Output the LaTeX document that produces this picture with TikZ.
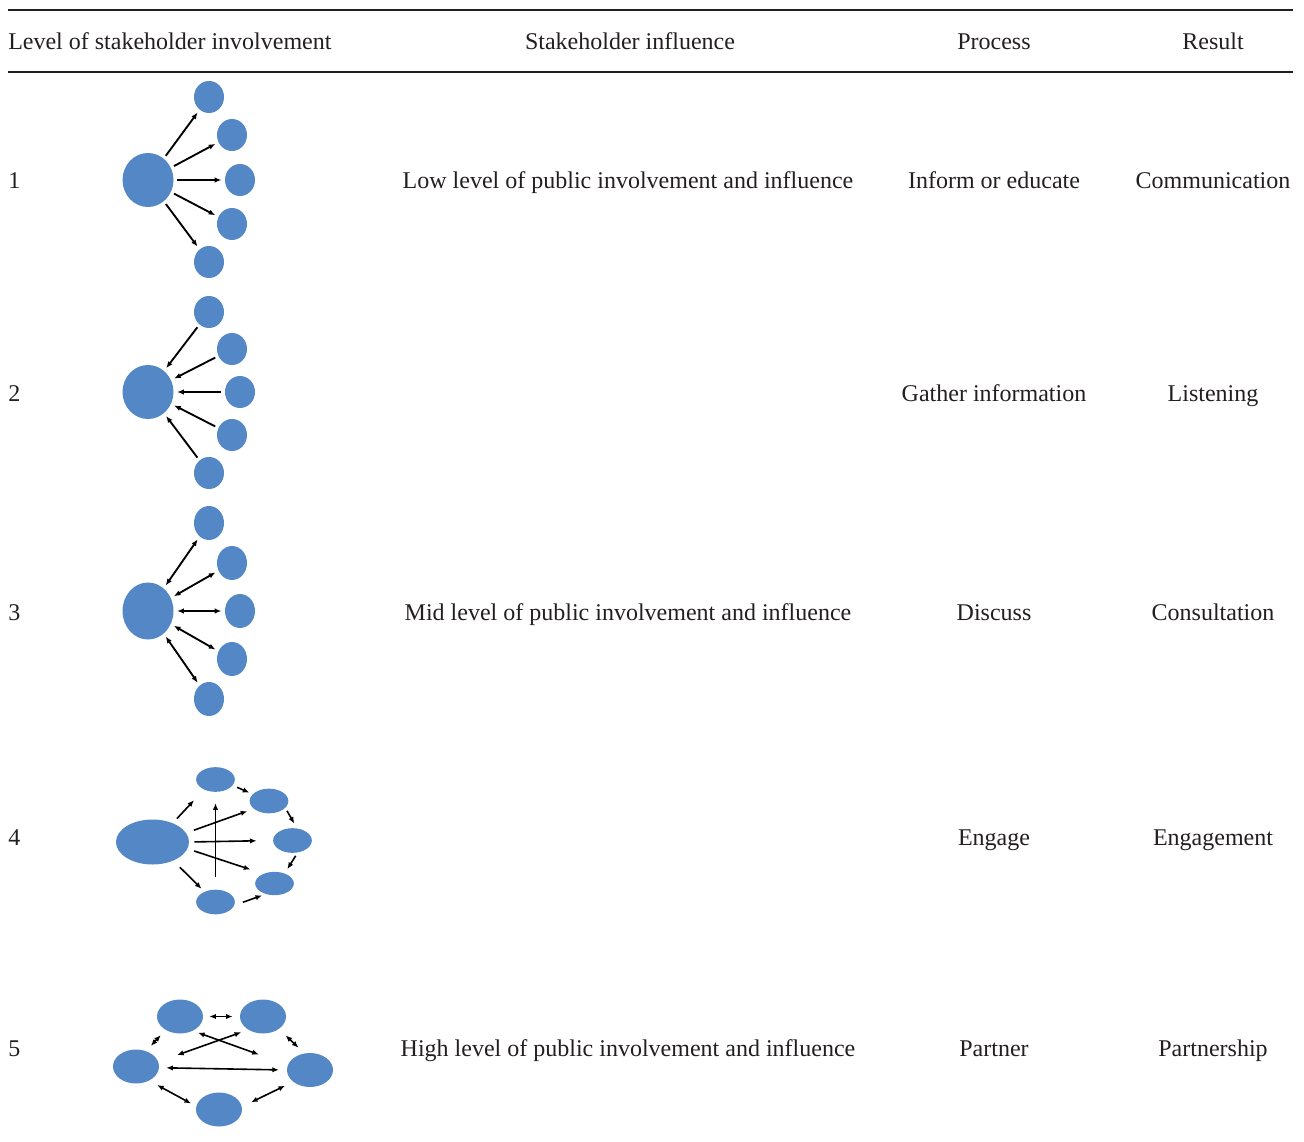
\documentclass[tikz,border=0pt]{standalone}
\usepackage{fontspec}
\setmainfont{Liberation Serif}
\usetikzlibrary{shapes.geometric,arrows.meta}
\definecolor{nodeblue}{RGB}{83,135,198}
\definecolor{txtgray}{RGB}{35,31,32}
\begin{document}
\begin{tikzpicture}[x=0.75pt,y=-0.75pt,
  >={Latex[length=5pt,width=4pt]},
  bub/.style={ellipse,fill=nodeblue,draw=none,inner sep=0pt},
  bigc/.style={bub,minimum width=38.25pt,minimum height=40.5pt},
  bigcc/.style={bub,minimum width=38.25pt,minimum height=42.75pt},
  smallc/.style={bub,minimum width=22.5pt,minimum height=24pt},
  smallcc/.style={bub,minimum width=22.5pt,minimum height=25.5pt},
  bigf/.style={bub,minimum width=54.75pt,minimum height=33.75pt},
  smallf/.style={bub,minimum width=29pt,minimum height=18.5pt},
  ovl/.style={bub,minimum width=34.5pt,minimum height=25.5pt},
  txt/.style={font=\fontsize{18}{21}\selectfont,text=txtgray,inner sep=0pt,anchor=base},
  ltxt/.style={txt,anchor=base west},
  rulel/.style={line width=1.1pt,draw=txtgray},
  arr/.style={line width=1.2pt,draw=black},
  fan/.style={arr,line width=1.4pt,shorten <=2.5pt,shorten >=2.5pt},
]
\useasboundingbox (0,0) rectangle (1304,1142);

% rules
\coordinate (tl) at (8,10);
\coordinate (tr) at (1293,10);
\coordinate (hl) at (8,72);
\coordinate (hr) at (1293,72);
\draw[rulel] (tl) -- (tr);
\draw[rulel] (hl) -- (hr);

% header
\node[ltxt] (h1) at (8,50) {Level of stakeholder involvement};
\node[txt] (h2) at (630,50) {Stakeholder influence};
\node[txt] (h3) at (994,50) {Process};
\node[txt] (h4) at (1213,50) {Result};

% row texts
\node[ltxt] (n1) at (8,188) {1};
\node[ltxt] (n2) at (8,401) {2};
\node[ltxt] (n3) at (8,620) {3};
\node[ltxt] (n4) at (8,845) {4};
\node[ltxt] (n5) at (8,1056) {5};

\node[txt] (i1) at (628,188) {Low level of public involvement and influence};
\node[txt] (i3) at (628,620) {Mid level of public involvement and influence};
\node[txt] (i5) at (628,1056) {High level of public involvement and influence};

\node[txt] (p1) at (994,188) {Inform or educate};
\node[txt] (p2) at (994,401) {Gather information};
\node[txt] (p3) at (994,620) {Discuss};
\node[txt] (p4) at (994,845) {Engage};
\node[txt] (p5) at (994,1056) {Partner};

\node[txt] (r1) at (1213,188) {Communication};
\node[txt] (r2) at (1213,401) {Listening};
\node[txt] (r3) at (1213,620) {Consultation};
\node[txt] (r4) at (1213,845) {Engagement};
\node[txt] (r5) at (1213,1056) {Partnership};

% row 1
\node[bigc] (a0) at (148,180) {};
\node[smallc] (a1) at (209,97) {};
\node[smallc] (a2) at (232,135) {};
\node[smallc] (a3) at (240,180) {};
\node[smallc] (a4) at (232,224) {};
\node[smallc] (a5) at (209,262) {};
\foreach \i in {1,...,5} \draw[fan,->] (a0) -- (a\i);

% row 2
\node[bigc] (b0) at (148,392) {};
\node[smallc] (b1) at (209,312) {};
\node[smallc] (b2) at (232,349) {};
\node[smallc] (b3) at (240,392) {};
\node[smallc] (b4) at (232,435) {};
\node[smallc] (b5) at (209,473) {};
\foreach \i in {1,...,5} \draw[fan,<-] (b0) -- (b\i);

% row 3
\node[bigcc] (c0) at (148,611) {};
\node[smallcc] (c1) at (209,523) {};
\node[smallcc] (c2) at (232,563) {};
\node[smallcc] (c3) at (240,611) {};
\node[smallcc] (c4) at (232,659) {};
\node[smallcc] (c5) at (209,699) {};
\foreach \i in {1,...,5} \draw[fan,<->] (c0) -- (c\i);

% row 4
\node[bigf] (d0) at (152.5,842) {};
\node[smallf] (d1) at (215.5,779.5) {};
\node[smallf] (d2) at (269,801) {};
\node[smallf] (d3) at (292.5,840.5) {};
\node[smallf,minimum height=17.5pt] (d4) at (274.5,883.5) {};
\node[smallf] (d5) at (215.5,902) {};
\draw[arr,->,shorten <=4.5pt,shorten >=10.8pt] (d0.43) -- (d1.221);
\draw[arr,->,shorten <=3.5pt,shorten >=2.6pt] (d1.-19) -- (d2.157);
\draw[arr,->,shorten <=2.5pt,shorten >=4pt] (d2.-23) -- (d3.70);
\draw[arr,->,shorten <=2.8pt,shorten >=3.7pt] (d3.-67) -- (d4.45);
\draw[arr,->,shorten <=6.8pt,shorten >=2.7pt] (d5.-10) -- (d4.-130);
\draw[arr,->,shorten <=6.9pt,shorten >=3pt] (d0.-42) -- (d5.137);
\draw[arr,->,shorten <=9pt,shorten >=8.3pt] (d5.north) -- (d1.south);
\draw[arr,->,shorten <=6.1pt,shorten >=5pt] (d0.15) -- (d2.207);
\draw[arr,->,shorten <=3.8pt,shorten >=12.2pt] (d0.0) -- (d3.180);
\draw[arr,->,shorten <=5.1pt,shorten >=10.1pt] (d0.-11) -- (d4.139);

% row 5
\node[ovl] (eA) at (180,1016.5) {};
\node[ovl] (eB) at (263,1016.5) {};
\node[ovl] (eC) at (136,1066.5) {};
\node[ovl] (eD) at (310,1070) {};
\node[ovl] (eE) at (219,1109.5) {};
\draw[arr,<->,shorten <=4.5pt,shorten >=5.3pt] (eA.0) -- (eB.180);
\draw[arr,<->,shorten <=5.2pt,shorten >=5.2pt] (eC.57) -- (eA.-137);
\draw[arr,<->,shorten <=6.8pt,shorten >=6pt] (eB.-38) -- (eD.109);
\draw[arr,<->,shorten <=4pt,shorten >=23pt] (eA.-48) -- (eD.167);
\draw[arr,<->,shorten <=14.8pt,shorten >=5.5pt] (eC.12) -- (eB.-138);
\draw[arr,<->,shorten <=5.3pt,shorten >=5.8pt] (eC.-3) -- (eD.180);
\draw[arr,<->,shorten <=6.7pt,shorten >=4.3pt] (eC.-47) -- (eE.172);
\draw[arr,<->,shorten <=7.5pt,shorten >=6.6pt] (eE.7) -- (eD.-145);
\end{tikzpicture}
\end{document}
